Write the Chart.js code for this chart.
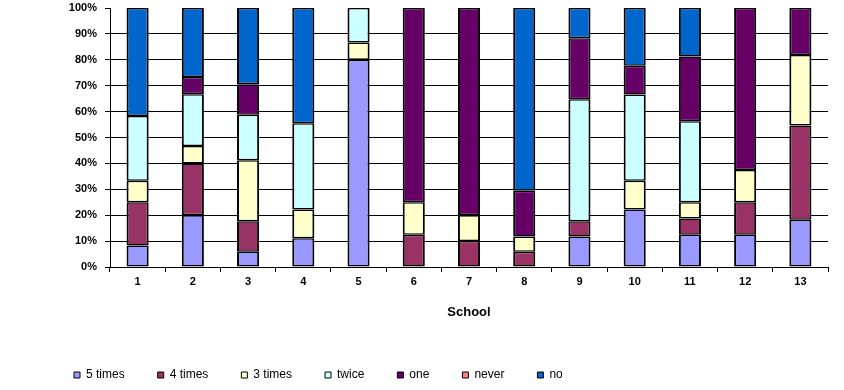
<!DOCTYPE html>
<html>
<head>
<meta charset="utf-8">
<script src="https://cdn.jsdelivr.net/npm/chart.js@4"></script>
<style>
  html, body { margin: 0; padding: 0; background: #fff; }
  #wrap { width: 844px; height: 390px; }
</style>
</head>
<body>
<div id="wrap"><canvas id="chart" width="844" height="390"></canvas></div>
<script>
// schools on the x axis
const schools = ['1', '2', '3', '4', '5', '6', '7', '8', '9', '10', '11', '12', '13'];

// share of answers per school, in percent
const fiveTimes  = [8.3, 20, 5.9, 11.1, 80, 0, 0, 0, 11.8, 22.2, 12.5, 12.5, 18.2];
const fourTimes  = [16.7, 20, 11.8, 0, 0, 12.5, 10, 5.9, 5.9, 0, 6.25, 12.5, 36.4];
const threeTimes = [8.3, 6.7, 23.5, 11.1, 6.7, 12.5, 10, 5.9, 0, 11.1, 6.25, 12.5, 27.3];
const twice      = [25, 20, 17.6, 33.3, 13.3, 0, 0, 0, 47.1, 33.3, 31.25, 0, 0];
const once       = [0, 6.7, 11.8, 0, 0, 75, 80, 17.6, 23.5, 11.1, 25, 62.5, 18.1];
const never      = [0, 0, 0, 0, 0, 0, 0, 0, 0, 0, 0, 0, 0];
const no         = [41.7, 26.6, 29.4, 44.5, 0, 0, 0, 70.6, 11.7, 22.3, 18.75, 0, 0];

const yTicks = [0, 10, 20, 30, 40, 50, 60, 70, 80, 90, 100];

Chart.defaults.font.family = '"Liberation Sans", Arial, sans-serif';
Chart.defaults.color = '#000';

// zero shares are left out so no empty outline is drawn
const clean = arr => arr.map(v => (v === 0 ? null : v));

function series(label, data, color) {
  return {
    label: label,
    data: clean(data),
    backgroundColor: color,
    borderColor: '#000',
    borderWidth: { top: 1.5, bottom: 1.5, left: 2, right: 2 },
    borderSkipped: false,
    categoryPercentage: 0.4,
    barPercentage: 1
  };
}

const datasets = [
  series('5 times', fiveTimes, '#9999FF'),
  series('4 times', fourTimes, '#993366'),
  series('3 times', threeTimes, '#FFFFCC'),
  series('twice', twice, '#CCFFFF'),
  series('one', once, '#660066'),
  series('never', never, '#FF8080'),
  series('no', no, '#0066CC')
];

// legend sits low with wide gaps, so fix its height
const legendHeight = {
  id: 'legendHeight',
  beforeInit(chart) {
    const fit = chart.legend.fit;
    chart.legend.fit = function () {
      fit.call(this);
      this.height = 54;
    };
  }
};

new Chart(document.getElementById('chart').getContext('2d'), {
  type: 'bar',
  data: { labels: schools, datasets: datasets },
  plugins: [legendHeight],
  options: {
    responsive: false,
    animation: false,
    layout: { padding: { left: 41, right: 16, top: 8, bottom: 0 } },
    scales: {
      x: {
        stacked: true,
        offset: true,
        grid: {
          offset: true,
          drawOnChartArea: false,
          tickLength: 5,
          color: '#000'
        },
        border: { color: '#000', width: 1 },
        ticks: { font: { size: 11, weight: 'bold' }, padding: 3, color: '#000' },
        title: {
          display: true,
          text: 'School',
          font: { size: 13, weight: 'bold' },
          color: '#000',
          padding: { top: 0, bottom: 16 }
        },
        afterFit(scale) { scale.height = 69; }
      },
      y: {
        stacked: true,
        min: 0,
        max: 100,
        afterBuildTicks(scale) { scale.ticks = yTicks.map(v => ({ value: v })); },
        grid: {
          color: c => (c.tick && c.tick.value === 100 ? 'rgba(0,0,0,0)' : '#000'),
          tickColor: '#000',
          tickLength: 5,
          lineWidth: 1
        },
        border: { color: '#000', width: 1 },
        ticks: {
          callback: v => v + '%',
          font: { size: 11, weight: 'bold' },
          padding: 8,
          color: '#000'
        },
        afterFit(scale) {
          scale.width = 69;
          scale.paddingTop = 0;
        }
      }
    },
    plugins: {
      tooltip: { enabled: false },
      legend: {
        position: 'bottom',
        align: 'start',
        labels: {
          boxWidth: 6,
          boxHeight: 6,
          padding: 33,
          color: '#000',
          font: { size: 12 },
          generateLabels(chart) {
            const items = Chart.defaults.plugins.legend.labels.generateLabels(chart);
            items.forEach(it => { it.lineWidth = 1; });
            return items;
          }
        }
      }
    }
  }
});
</script>
</body>
</html>
